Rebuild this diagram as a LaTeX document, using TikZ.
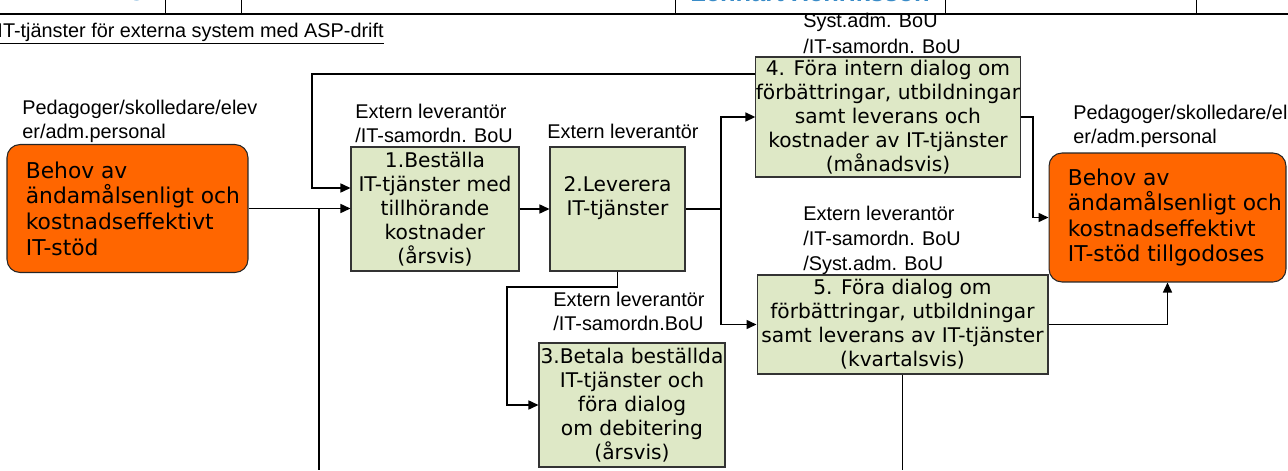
\documentclass[tikz,border=0pt]{standalone}
\usepackage{fontspec}
\setmainfont{Liberation Sans}
\newfontfamily\verdana{DejaVu Sans}
\usetikzlibrary{arrows.meta}
\definecolor{needorange}{RGB}{255,102,0}
\definecolor{stepgreen}{RGB}{222,232,198}
\definecolor{headblue}{RGB}{58,140,200}

\begin{document}
\begin{tikzpicture}[
    x=0.02cm, y=-0.02cm,
    need/.style={draw=black!85, fill=needorange, rounded corners=0.26cm, line width=0.6pt},
    needtext/.style={font=\verdana\fontsize{12.4}{14.6}\selectfont, align=left, inner sep=0pt, anchor=west},
    stepbox/.style={draw=black!80, fill=stepgreen, line width=0.6pt,
                    font=\verdana\fontsize{11.5}{13.7}\selectfont, align=center, inner sep=0pt},
    role/.style={font=\fontsize{11.3}{13.4}\selectfont, align=left, inner sep=0pt, anchor=base west},
    flow/.style={-{Triangle[length=2mm,width=1.8mm]}, line width=0.85pt},
    link/.style={line width=0.85pt},
    headtext/.style={font=\bfseries\fontsize{14.5}{16}\selectfont, text=headblue, inner sep=0pt},
  ]
    \useasboundingbox (0,0) rectangle (1288,470);

    % header strip
    \draw[line width=1pt] (0,14) -- (1288,14);
    \foreach \hx in {165,241,675,945,1196}
      \draw[line width=0.5pt] (\hx,0) -- (\hx,14);
    \node[headtext, anchor=base east] (headg) at (145,-4.5) {g};
    \node[headtext, anchor=base west] (author) at (690,1.5) {Lennart Henriksson};
    \node[font=\fontsize{11.3}{13}\selectfont, anchor=base east, inner sep=0pt] (title) at (384,37)
      {\underline{IT-tjänster för externa system med ASP-drift}};

    % needs
    \node[need, minimum width=4.82cm, minimum height=2.56cm] (lneed) at (127.5,208.5) {};
    \node[needtext] (lneedtext) at ([xshift=0.38cm]lneed.west)
      {Behov av\\ändamålsenligt och\\kostnadseffektivt\\IT-stöd};
    \node[need, minimum width=4.74cm, minimum height=2.58cm] (rneed) at (1167.5,217.5) {};
    \node[needtext] (rneedtext) at ([xshift=0.38cm]rneed.west)
      {Behov av\\ändamålsenligt och\\kostnadseffektivt\\IT-stöd tillgodoses};

    % steps
    \node[stepbox, minimum width=3.36cm, minimum height=2.48cm] (b1) at (435,209)
      {1.Beställa\\IT-tjänster med\\tillhörande\\kostnader\\(årsvis)};
    \node[stepbox, minimum width=2.7cm, minimum height=2.48cm] (b2) at (617.5,209) {};
    \node[stepbox, draw=none, fill=none] (b2text) at (617.5,198) {2.Leverera\\IT-tjänster};
    \node[stepbox, minimum width=3.72cm, minimum height=2.48cm] (b3) at (632,405)
      {3.Betala beställda\\IT-tjänster och\\föra dialog\\om debitering\\(årsvis)};
    \node[stepbox, minimum width=5.24cm, minimum height=2.4cm] (b4) at (888,117)
      {4. Föra intern dialog om\\förbättringar, utbildningar\\samt leverans och\\kostnader av IT-tjänster\\(månadsvis)};
    \node[stepbox, minimum width=5.82cm, minimum height=1.98cm] (b5) at (902.5,324.5)
      {5. Föra dialog om\\förbättringar, utbildningar\\samt leverans av IT-tjänster\\(kvartalsvis)};

    % roles (anchored at the baseline of their last line)
    \node[role] (lneedrole) at (22,138) {Pedagoger/skolledare/elev\\er/adm.personal};
    \node[role] (rneedrole) at (1073,143) {Pedagoger/skolledare/elev\\er/adm.personal};
    \node[role] (b1role) at (355,142) {Extern leverantör\\/IT-samordn. BoU};
    \node[role] (b2role) at (547,138) {Extern leverantör};
    \node[role] (b3role) at (553,330) {Extern leverantör\\/IT-samordn.BoU};
    \node[role, font=\fontsize{11.3}{14.5}\selectfont] (b4role) at (803,53) {Syst.adm. BoU\\/IT-samordn. BoU};
    \node[role, font=\fontsize{11.3}{14}\selectfont] (b5role) at (803,270) {Extern leverantör\\/IT-samordn. BoU\\/Syst.adm. BoU};

    % connectors
    \coordinate (bottom) at (0,470);
    \coordinate (fbtop) at (312,74);
    \coordinate (fbin) at (312,188);
    \coordinate (lsplit) at (319,209);
    \coordinate (rsplit) at (721,209);
    \coordinate (b3bend) at (507,287);
    \coordinate (b4turn) at (1033,117);
    \draw[flow] (b4.west |- fbtop) -- (fbtop) -- (fbin) -- (b1.west |- fbin);
    \draw[flow] (lneed.east) -- (lneed.east -| b1.west);
    \draw[link] (lsplit) -- (lsplit |- bottom);
    \draw[flow] (b1.east) -- (b2.west);
    \draw[link] (b2.east) -- (rsplit);
    \draw[flow] (rsplit) |- (b4.west);
    \draw[flow] (rsplit) |- (b5.west);
    \draw[flow] (b2.south) |- (b3bend) |- (b3.west);
    \draw[flow] (b4.east) -- (b4turn) |- (rneed.west);
    \draw[flow] (b5.east) -| (rneed.south);
    \draw[link] (b5.south) -- (b5.south |- bottom);
  \end{tikzpicture}
\end{document}
